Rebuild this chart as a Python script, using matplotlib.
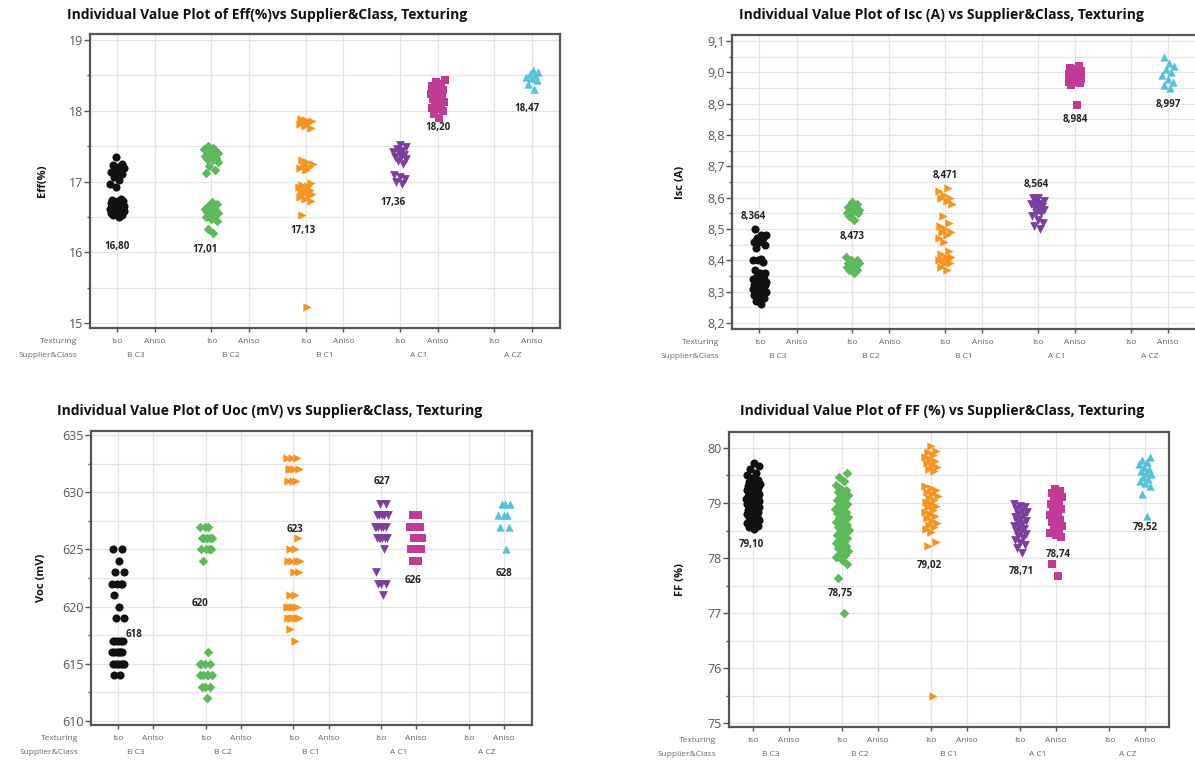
import numpy as np
import matplotlib
matplotlib.use('Agg')
import matplotlib.pyplot as plt
from matplotlib.ticker import FuncFormatter, MultipleLocator

plt.rcParams['font.family'] = ['Open Sans', 'DejaVu Sans']

# categories
groups = ['B C3', 'B C2', 'B C1', 'A C1', 'A CZ']
textures = ['Iso', 'Aniso']
# (group, texture) of the six series that have data
series_keys = [(0, 0), (1, 0), (2, 0), (3, 0), (3, 1), (4, 1)]

# ---- Eff (%) ----
eff_bc3 = [16.50, 16.52, 16.53, 16.54, 16.55, 16.56, 16.57, 16.58, 16.58, 16.59,
           16.60, 16.60, 16.61, 16.61, 16.62, 16.62, 16.63, 16.63, 16.64, 16.64,
           16.65, 16.65, 16.66, 16.67, 16.68, 16.69, 16.70, 16.71, 16.72, 16.73,
           16.74, 16.76, 16.92, 16.97, 17.02, 17.06, 17.10, 17.12, 17.13, 17.15,
           17.17, 17.19, 17.21, 17.23, 17.25, 17.35]
eff_bc2 = [16.27, 16.33, 16.44, 16.47, 16.50, 16.52, 16.53, 16.55, 16.56, 16.57,
           16.59, 16.60, 16.61, 16.63, 16.65, 16.68, 16.71, 17.12, 17.17, 17.22,
           17.27, 17.30, 17.32, 17.33, 17.35, 17.36, 17.37, 17.39, 17.40, 17.41,
           17.42, 17.44, 17.45, 17.46, 17.48, 17.50]
eff_bc1 = [15.23, 16.52, 16.72, 16.75, 16.78, 16.80, 16.82, 16.83, 16.85, 16.86,
           16.88, 16.90, 16.92, 16.94, 16.95, 16.98, 17.16, 17.19, 17.20, 17.23,
           17.25, 17.27, 17.30, 17.76, 17.79, 17.81, 17.83, 17.84, 17.85, 17.87,
           17.89]
eff_ac1_iso = [16.97, 17.00, 17.03, 17.06, 17.09, 17.25, 17.29, 17.32, 17.34,
               17.35, 17.38, 17.40, 17.42, 17.43, 17.46, 17.49, 17.52]
eff_ac1_aniso = [17.90, 17.95, 18.00, 18.02, 18.04, 18.08, 18.11, 18.13, 18.14,
                 18.17, 18.19, 18.20, 18.23, 18.25, 18.26, 18.29, 18.32, 18.35,
                 18.38, 18.41, 18.44]
eff_acz = [18.31, 18.38, 18.44, 18.47, 18.48, 18.50, 18.52, 18.55, 18.58]
eff_means = [16.80, 17.01, 17.13, 17.36, 18.20, 18.47]

# ---- Isc (A) ----
isc_bc3 = [8.26, 8.27, 8.28, 8.28, 8.29, 8.29, 8.29, 8.30, 8.30, 8.30, 8.30, 8.31,
           8.31, 8.31, 8.31, 8.32, 8.32, 8.32, 8.32, 8.33, 8.33, 8.33, 8.33, 8.34,
           8.34, 8.34, 8.35, 8.35, 8.36, 8.36, 8.37, 8.395, 8.40, 8.40, 8.405, 8.44,
           8.45, 8.46, 8.46, 8.47, 8.47, 8.48, 8.48, 8.50]
isc_bc2 = [8.36, 8.37, 8.37, 8.38, 8.38, 8.38, 8.38, 8.39, 8.39, 8.39, 8.40, 8.40,
           8.41, 8.53, 8.54, 8.55, 8.55, 8.55, 8.56, 8.56, 8.56, 8.57, 8.57, 8.58,
           8.585]
isc_bc1 = [8.37, 8.38, 8.39, 8.39, 8.40, 8.40, 8.40, 8.41, 8.41, 8.42, 8.43, 8.46,
           8.47, 8.48, 8.49, 8.49, 8.50, 8.51, 8.52, 8.54, 8.58, 8.59, 8.60, 8.60,
           8.61, 8.62, 8.63]
isc_ac1_iso = [8.50, 8.51, 8.52, 8.53, 8.54, 8.55, 8.55, 8.56, 8.56, 8.57, 8.57,
               8.58, 8.58, 8.58, 8.59, 8.59, 8.60, 8.60]
isc_ac1_aniso = [8.895, 8.96, 8.965, 8.97, 8.97, 8.975, 8.98, 8.98, 8.985, 8.99,
                 8.99, 8.99, 8.995, 9.00, 9.00, 9.005, 9.01, 9.015, 9.02]
isc_acz = [8.95, 8.96, 8.97, 8.98, 8.99, 9.00, 9.01, 9.02, 9.03, 9.05]
isc_means = [8.364, 8.473, 8.471, 8.564, 8.984, 8.997]

# ---- Voc (mV) ----
voc_bc3 = [614, 614, 615, 615, 615, 615, 615, 615, 616, 616, 616, 616, 616, 616,
           617, 617, 617, 617, 617, 619, 619, 620, 621, 622, 622, 622, 622,
           623, 623, 624, 625, 625]
voc_bc2 = [612, 613, 613, 613, 614, 614, 614, 614, 614, 615, 615, 615, 615, 616,
           624, 625, 625, 625, 625, 626, 626, 626, 626, 626, 627, 627, 627]
voc_bc1 = [617, 618, 619, 619, 619, 619, 619, 619, 620, 620, 620, 620, 620, 621,
           621, 623, 623, 624, 624, 624, 624, 625, 625, 626, 631, 631, 631,
           632, 632, 632, 632, 633, 633, 633]
voc_ac1_iso = [621, 622, 622, 622, 623, 625, 626, 626, 626, 626, 626, 626, 627,
               627, 627, 627, 627, 627, 628, 628, 628, 628, 628, 629, 629]
voc_ac1_aniso = [624, 624, 625, 625, 625, 626, 626, 626, 626, 627, 627, 627, 627,
                 628, 628]
voc_acz = [625, 627, 627, 628, 628, 628, 629, 629, 629]
voc_means = [618, 620, 623, 627, 626, 628]

# ---- FF (%) ----
ff_bc3 = [78.52, 78.56, 78.58, 78.62, 78.64, 78.66, 78.68, 78.70, 78.72, 78.74,
          78.76, 78.78, 78.80, 78.81, 78.83, 78.84, 78.86, 78.87, 78.89, 78.90,
          78.92, 78.93, 78.95, 78.96, 78.98, 78.99, 79.00, 79.02, 79.03, 79.04,
          79.05, 79.06, 79.07, 79.08, 79.09, 79.10, 79.11, 79.12, 79.13, 79.14,
          79.15, 79.16, 79.17, 79.18, 79.20, 79.21, 79.23, 79.24, 79.26, 79.27,
          79.29, 79.30, 79.32, 79.33, 79.35, 79.37, 79.39, 79.41, 79.45, 79.50,
          79.55, 79.62, 79.68, 79.73]
ff_bc2 = [77.00, 77.64, 77.90, 77.96, 78.02, 78.05, 78.10, 78.12, 78.16, 78.18,
          78.22, 78.24, 78.28, 78.30, 78.33, 78.36, 78.40, 78.42, 78.45, 78.48,
          78.51, 78.54, 78.57, 78.60, 78.63, 78.66, 78.69, 78.72, 78.75, 78.78,
          78.81, 78.84, 78.87, 78.90, 78.93, 78.96, 78.99, 79.02, 79.05, 79.08,
          79.11, 79.14, 79.17, 79.20, 79.23, 79.26, 79.32, 79.40, 79.48, 79.54]
ff_bc1 = [75.50, 78.22, 78.30, 78.48, 78.52, 78.56, 78.60, 78.64, 78.68, 78.72,
          78.76, 78.80, 78.84, 78.88, 78.92, 78.95, 78.98, 79.02, 79.06, 79.09,
          79.12, 79.16, 79.20, 79.23, 79.27, 79.30, 79.58, 79.62, 79.65, 79.69,
          79.72, 79.76, 79.80, 79.84, 79.88, 79.92, 79.95, 80.03]
ff_ac1_iso = [78.10, 78.18, 78.24, 78.28, 78.32, 78.36, 78.40, 78.44, 78.47,
              78.50, 78.53, 78.56, 78.59, 78.62, 78.65, 78.68, 78.71, 78.74,
              78.77, 78.80, 78.83, 78.86, 78.89, 78.92, 78.95, 78.98]
ff_ac1_aniso = [77.67, 77.90, 78.38, 78.42, 78.46, 78.50, 78.54, 78.58, 78.62,
                78.66, 78.70, 78.74, 78.78, 78.82, 78.86, 78.90, 78.94, 78.98,
                79.02, 79.06, 79.10, 79.14, 79.18, 79.22, 79.26]
ff_acz = [78.76, 79.16, 79.30, 79.36, 79.40, 79.44, 79.48, 79.52, 79.55, 79.58,
          79.62, 79.66, 79.70, 79.74, 79.78, 79.84]
ff_means = [79.10, 78.75, 79.02, 78.71, 78.74, 79.52]

# styles
colors = ['#111111', '#5dba5a', '#f7941d', '#7d3f9c', '#c23a98', '#56c2d8']
markers = ['o', 'D', '>', 'v', 's', '^']
msizes = [34, 24, 36, 40, 28, 36]

W, H = 1195, 765
panels = [
    dict(title='Individual Value Plot of Eff(%)vs Supplier&Class, Texturing',
         ylabel='Eff(%)', data=[eff_bc3, eff_bc2, eff_bc1, eff_ac1_iso, eff_ac1_aniso, eff_acz],
         means=eff_means, fmt='{:.2f}', tfmt='{:.0f}',
         box=(90, 34, 560, 328), ylim=(14.93, 19.085), major=1, minor=0.5,
         xlim=(-0.72, 11.74), title_xy=(267, 15), ylab_x=-0.09,
         lab_y=[16.08, 16.04, 16.31, 16.70, 17.76, 18.03],
         lab_dx=[0.0, -0.18, -0.07, -0.18, 0.0, -0.13]),
    dict(title='Individual Value Plot of Isc (A) vs Supplier&Class, Texturing',
         ylabel='Isc (A)', data=[isc_bc3, isc_bc2, isc_bc1, isc_ac1_iso, isc_ac1_aniso, isc_acz],
         means=isc_means, fmt='{:.3f}', tfmt='{:.1f}',
         box=(732, 35, 1197, 329), ylim=(8.181, 9.119), major=0.1, minor=0.05,
         xlim=(-0.74, 11.78), title_xy=(941, 15), ylab_x=-0.10,
         lab_y=[8.541, 8.477, 8.672, 8.643, 8.850, 8.898],
         lab_dx=[-0.16, 0.0, 0.0, -0.05, 0.0, 0.0]),
    dict(title='Individual Value Plot of Uoc (mV) vs Supplier&Class, Texturing',
         ylabel='Voc (mV)', data=[voc_bc3, voc_bc2, voc_bc1, voc_ac1_iso, voc_ac1_aniso, voc_acz],
         means=voc_means, fmt='{:.0f}', tfmt='{:.0f}',
         box=(91, 431, 532, 725), ylim=(609.65, 635.35), major=5, minor=2.5,
         xlim=(-0.77, 11.8), title_xy=(270, 411), ylab_x=-0.10,
         lab_y=[617.6, 620.3, 626.7, 630.9, 622.3, 622.9],
         lab_dx=[0.47, -0.17, 0.03, 0.03, -0.1, 0.0]),
    dict(title='Individual Value Plot of FF (%) vs Supplier&Class, Texturing',
         ylabel='FF (%)', data=[ff_bc3, ff_bc2, ff_bc1, ff_ac1_iso, ff_ac1_aniso, ff_acz],
         means=ff_means, fmt='{:.2f}', tfmt='{:.0f}',
         box=(729, 432, 1169, 727), ylim=(74.93, 80.29), major=1, minor=0.5,
         xlim=(-0.67, 11.67), title_xy=(942, 411), ylab_x=-0.098,
         lab_y=[78.25, 77.36, 77.87, 77.76, 78.07, 78.55],
         lab_dx=[-0.05, -0.05, -0.05, 0.03, 0.05, 0.0]),
]

gap = 2.5
cat_x = [g * gap + t for g in range(len(groups)) for t in range(len(textures))]
cat_lab = [textures[t] for g in range(len(groups)) for t in range(len(textures))]

fig = plt.figure(figsize=(W / 100, H / 100), dpi=100)

for p in panels:
    l, t, r, b = p['box']
    ax = fig.add_axes([l / W, 1 - b / H, (r - l) / W, (b - t) / H])
    ax.set_xlim(*p['xlim'])
    ax.set_ylim(*p['ylim'])
    ax.set_axisbelow(True)

    for k, (g, tx) in enumerate(series_keys):
        vals = np.array(p['data'][k], dtype=float)
        idx = np.arange(1, len(vals) + 1)
        # deterministic spread around the category position
        jit = ((idx * 0.618034) % 1.0 - 0.5) * 0.38
        xs = g * gap + tx + jit
        ax.scatter(xs, vals, s=msizes[k], marker=markers[k], color=colors[k],
                   linewidths=0, zorder=3)
        lab = p['fmt'].format(p['means'][k]).replace('.', ',')
        ax.text(g * gap + tx + p['lab_dx'][k], p['lab_y'][k], lab, ha='center',
                va='center', fontsize=7, fontweight='bold', color='#222222',
                zorder=4)

    ax.set_xticks(cat_x)
    ax.set_xticklabels([])
    ax.yaxis.set_major_locator(MultipleLocator(p['major']))
    ax.yaxis.set_minor_locator(MultipleLocator(p['minor']))
    tf = p['tfmt']
    ax.yaxis.set_major_formatter(FuncFormatter(lambda v, pos, tf=tf: tf.format(v).replace('.', ',')))
    ax.grid(True, axis='x', which='major', color='#e4e4e4', lw=0.9)
    ax.grid(True, axis='y', which='both', color='#e4e4e4', lw=0.9)
    ax.tick_params(axis='y', which='major', length=4, width=1, color='#555555',
                   labelcolor='#555555', labelsize=9, pad=1)
    ax.tick_params(axis='y', which='minor', length=2.5, width=1, color='#555555')
    ax.tick_params(axis='x', length=3, width=1, color='#555555')
    for s in ax.spines.values():
        s.set_color('#555555')
        s.set_linewidth(1.6)

    # category label rows
    for x, lab in zip(cat_x, cat_lab):
        ax.annotate(lab, xy=(x, 0), xycoords=('data', 'axes fraction'),
                    xytext=(0, -10), textcoords='offset points', ha='center',
                    va='center', fontsize=6, color='#666666')
    for g, name in enumerate(groups):
        ax.annotate(name, xy=(g * gap + 0.5, 0), xycoords=('data', 'axes fraction'),
                    xytext=(0, -20), textcoords='offset points', ha='center',
                    va='center', fontsize=6, color='#666666')
    ax.annotate('Texturing', xy=(0, 0), xycoords='axes fraction', xytext=(-9, -10),
                textcoords='offset points', ha='right', va='center', fontsize=6,
                color='#666666')
    ax.annotate('Supplier&Class', xy=(0, 0), xycoords='axes fraction', xytext=(-9, -20),
                textcoords='offset points', ha='right', va='center', fontsize=6,
                color='#666666')

    ax.set_ylabel(p['ylabel'], fontsize=8, fontweight='bold', color='#111111')
    ax.yaxis.set_label_coords(p['ylab_x'], 0.5)

    tx_, ty_ = p['title_xy']
    fig.text(tx_ / W, 1 - ty_ / H, p['title'], ha='center', va='center',
             fontsize=10, fontweight='bold', color='#111111')

fig.savefig('out.png', dpi=100)
